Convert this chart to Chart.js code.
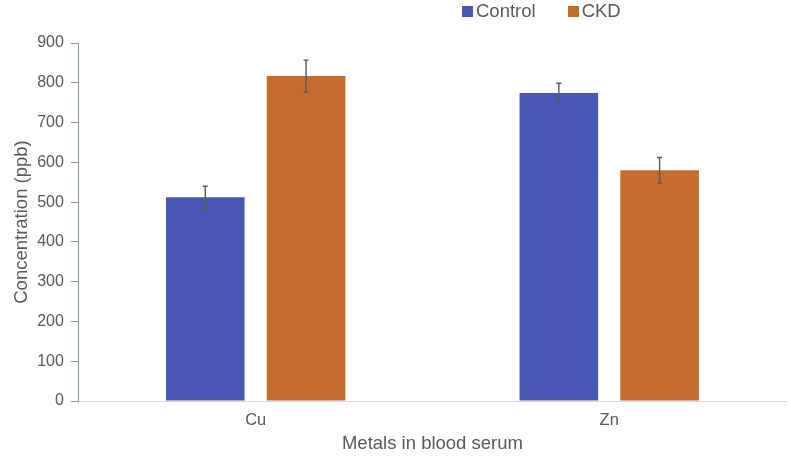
<!DOCTYPE html>
<html>
<head>
<meta charset="utf-8">
<script src="https://cdn.jsdelivr.net/npm/chart.js@4"></script>
<style>
  html, body { margin: 0; padding: 0; background: #fff; }
  #wrap { position: relative; width: 791px; height: 465px; }
  #legend { position: absolute; top: 1px; left: 462px; font: 18.5px "Liberation Sans", Arial, sans-serif; line-height: 20px; color: #595959; display: flex; gap: 32px; }
  #legend .item { display: flex; align-items: center; }
  #legend .box { display: inline-block; width: 11px; height: 11px; margin: 1px 3px 0 0; }
</style>
</head>
<body>
<div id="wrap">
  <canvas id="c" width="791" height="465"></canvas>
  <div id="legend"></div>
</div>
<script>
// 血清中の金属濃度（ppb）: 平均値と誤差幅
const categories = ['Cu', 'Zn'];
const seriesNames = ['Control', 'CKD'];
const controlValues = [512, 774];
const ckdValues = [817, 580];
const controlErrors = [28, 25];
const ckdErrors = [40, 32];
const yTicks = [0, 100, 200, 300, 400, 500, 600, 700, 800, 900];

const COLORS = ['#4858B6', '#C46C30'];
const FONT = '"Liberation Sans", Arial, sans-serif';

// 凡例（HTML）
const legendEl = document.getElementById('legend');
seriesNames.forEach((name, i) => {
  const item = document.createElement('div');
  item.className = 'item';
  item.innerHTML = `<span class="box" style="background:${COLORS[i]}"></span>${name}`;
  legendEl.appendChild(item);
});

// エラーバーを各棒の上に描く
const errorBars = {
  id: 'errorBars',
  afterDatasetsDraw(chart) {
    const ctx = chart.ctx;
    const y = chart.scales.y;
    ctx.save();
    ctx.strokeStyle = '#5A5A5A';
    ctx.lineWidth = 1.4;
    chart.data.datasets.forEach((ds, di) => {
      const meta = chart.getDatasetMeta(di);
      meta.data.forEach((bar, i) => {
        const v = ds.data[i];
        const e = ds.errors[i];
        const top = y.getPixelForValue(v + e);
        const bot = y.getPixelForValue(v - e);
        ctx.beginPath();
        ctx.moveTo(bar.x, top); ctx.lineTo(bar.x, bot);
        ctx.moveTo(bar.x - 2.5, top); ctx.lineTo(bar.x + 2.5, top);
        ctx.moveTo(bar.x - 2.5, bot); ctx.lineTo(bar.x + 2.5, bot);
        ctx.stroke();
      });
    });
    ctx.restore();
  },
};

new Chart(document.getElementById('c').getContext('2d'), {
  type: 'bar',
  data: {
    labels: categories,
    datasets: [
      { label: seriesNames[0], data: controlValues, errors: controlErrors, backgroundColor: COLORS[0] },
      { label: seriesNames[1], data: ckdValues, errors: ckdErrors, backgroundColor: COLORS[1] },
    ],
  },
  options: {
    responsive: false,
    animation: false,
    barPercentage: 0.78,
    categoryPercentage: 0.57,
    layout: { padding: { top: 43, right: 5, bottom: 6, left: 3 } },
    plugins: { legend: { display: false }, tooltip: { enabled: false } },
    scales: {
      x: {
        grid: { display: false, drawTicks: false },
        border: { display: true, color: '#D9D9D9', width: 1 },
        ticks: { color: '#595959', font: { family: FONT, size: 16.5 }, padding: 10 },
        title: { display: true, text: 'Metals in blood serum', color: '#595959', font: { family: FONT, size: 18.5 }, padding: { top: -8, bottom: 4 } },
      },
      y: {
        min: 0,
        max: 900,
        afterBuildTicks: axis => { axis.ticks = yTicks.map(v => ({ value: v })); },
        grid: { drawOnChartArea: false, drawTicks: true, tickLength: 8, color: '#8497B0' },
        border: { display: true, color: '#8497B0', width: 1 },
        ticks: { color: '#595959', font: { family: FONT, size: 16 }, padding: 7 },
        title: { display: true, text: 'Concentration (ppb)', color: '#595959', font: { family: FONT, size: 18.5 }, padding: { top: 8, bottom: -3 } },
      },
    },
  },
  plugins: [errorBars],
});
</script>
</body>
</html>
